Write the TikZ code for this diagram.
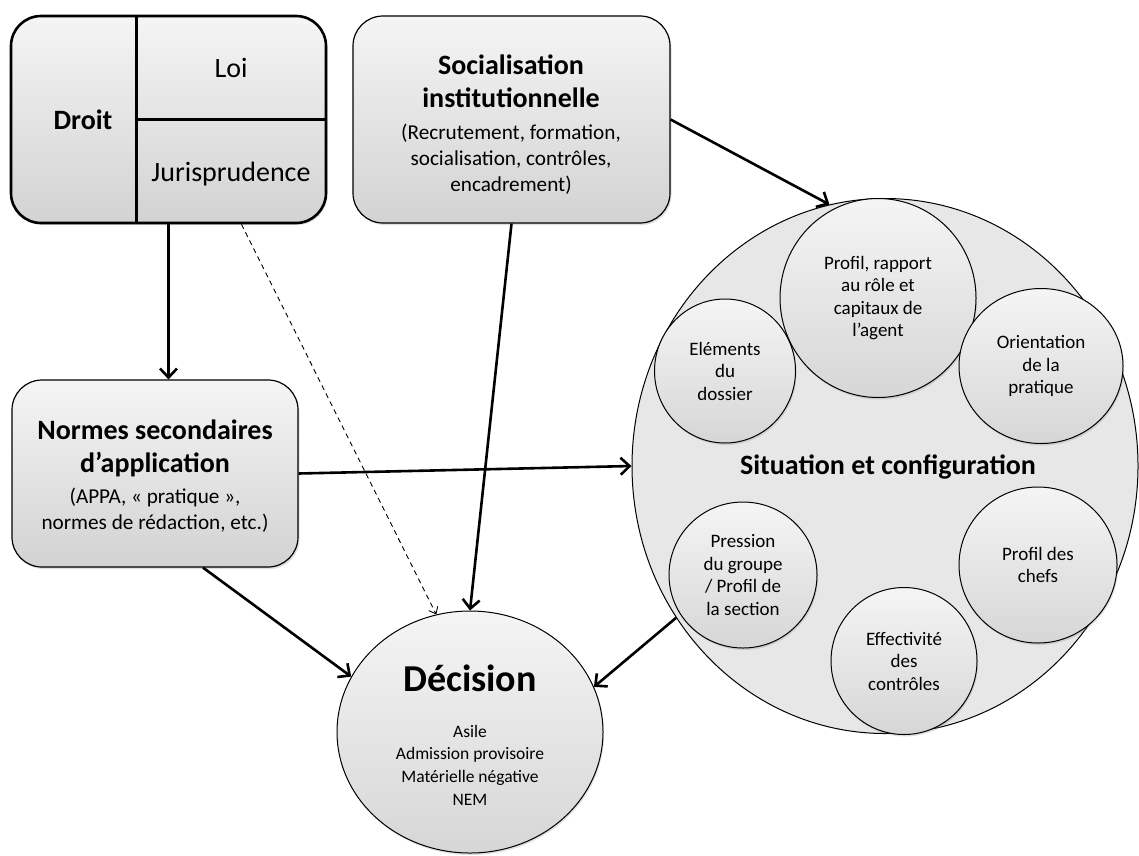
\documentclass[tikz,border=0pt]{standalone}
\usepackage{fontspec}
\setmainfont{Carlito}
\usetikzlibrary{arrows.meta,shapes.geometric,shadows,calc}

\tikzset{
  box/.style={draw, line width=1.2pt, rounded corners=30pt,
    top color=gray!8, bottom color=gray!35,
    drop shadow={opacity=0.25, shadow xshift=1.5pt, shadow yshift=-2pt}},
  bubble/.style={ellipse, draw, line width=1pt, inner sep=0pt,
    top color=gray!8, bottom color=gray!32,
    drop shadow={opacity=0.25, shadow xshift=1pt, shadow yshift=-2pt}},
  head/.style={inner sep=0pt, align=center, font=\fontsize{28}{33}\selectfont\bfseries},
  plain/.style={inner sep=0pt, align=center, font=\fontsize{28}{33}\selectfont},
  sub/.style={inner sep=0pt, align=center, font=\fontsize{21.2}{26}\selectfont},
  small/.style={inner sep=0pt, align=center, font=\fontsize{19}{22.5}\selectfont},
  arr/.style={line width=2.6pt, -{Straight Barb[length=9pt,width=17pt]}},
  dasharr/.style={line width=0.9pt, dash pattern=on 5pt off 4pt,
    -{Straight Barb[length=6pt,width=10pt]}}
}

\begin{document}
\begin{tikzpicture}[x=1pt,y=-1pt]
    \useasboundingbox (0,0) rectangle (1139,855);

    % Droit
    \node[box, line width=2.6pt, minimum width=315pt, minimum height=207pt] (droit) at (168.5,119.5) {};
    \draw[line width=2.6pt] ($(droit.north west)!0.4!(droit.north east)$) -- ($(droit.south west)!0.4!(droit.south east)$);
    \draw[line width=2.6pt] ($(droit.west)!0.4!(droit.east)$) -- (droit.east);
    \node[head] (droittxt) at (83,120) {Droit};
    \node[plain] (loi) at (231,68) {Loi};
    \node[plain] (juris) at (231,174) {Jurisprudence};

    % Socialisation institutionnelle
    \node[box, minimum width=317pt, minimum height=207pt] (social) at (511.5,119.5) {};
    \node[head] (socialtitle) at (511,81.5) {Socialisation\\institutionnelle};
    \node[sub] (socialsub) at (511,159) {(Recrutement, formation,\\socialisation, contrôles,\\encadrement)};

    % Normes secondaires
    \node[box, minimum width=286pt, minimum height=187pt] (normes) at (155,473.5) {};
    \node[head] (normestitle) at (155,448.5) {Normes secondaires\\d’application};
    \node[sub] (normessub) at (155,510) {(APPA, « pratique »,\\normes de rédaction, etc.)};

    % Situation et configuration
    \node[ellipse, draw, line width=1pt, fill=gray!19, inner sep=0pt, minimum width=506pt, minimum height=535pt] (situation) at (885,466) {};
    \node[head] (situationtxt) at (888,467) {Situation et configuration};
    \node[bubble, minimum width=196pt, minimum height=199pt] (agent) at (878,298) {};
    \node[small] at (agent) {Profil, rapport\\au rôle et\\capitaux de\\l’agent};
    \node[bubble, minimum width=141pt, minimum height=144pt] (dossier) at (725,371) {};
    \node[small] at (dossier) {Eléments\\du\\dossier};
    \node[bubble, minimum width=164pt, minimum height=155pt] (pratique) at (1041,366) {};
    \node[small] at (pratique) {Orientation\\de la\\pratique};
    \node[bubble, minimum width=148pt, minimum height=146pt] (groupe) at (743,575) {};
    \node[small] at (groupe) {Pression\\du groupe\\/ Profil de\\la section};
    \node[bubble, minimum width=146pt, minimum height=147pt] (controles) at (904,661) {};
    \node[small] at (controles) {Effectivité\\des\\contrôles};
    \node[bubble, minimum width=158pt, minimum height=156pt] (chefs) at (1038,565) {};
    \node[small] at (chefs) {Profil des\\chefs};

    % Décision
    \node[bubble, minimum width=266pt, minimum height=242pt] (decision) at (470,732) {};
    \node[inner sep=0pt, font=\fontsize{38}{44}\selectfont\bfseries] (decisiontxt) at (470,678) {Décision};
    \node[small, font=\fontsize{17.5}{22.7}\selectfont] (decisionlist) at (470,765) {Asile\\Admission provisoire\\Matérielle négative\\NEM};

    % Arrows
    \draw[arr] (droit.south) -- (droit.south |- normes.north);
    \draw[dasharr] ($(droit.south)+(73,0)$) -- (decision.106);
    \draw[arr] (social.south) -- (decision.north);
    \draw[arr] (social.east) -- (situation.102);
    \draw[arr] (normes.east) -- (situation.west);
    \draw[arr] ($(normes.south)+(48,0)$) -- (decision.155);
    \draw[arr] (situation.216) -- (decision.20);
  \end{tikzpicture}
\end{document}
